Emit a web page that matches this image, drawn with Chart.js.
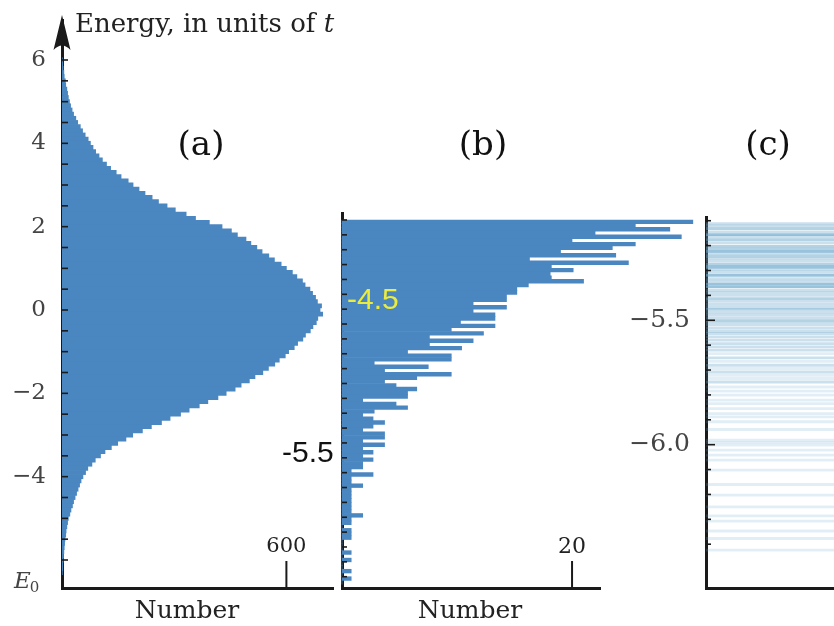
<!DOCTYPE html>
<html><head><meta charset="utf-8">
<script src="https://cdn.jsdelivr.net/npm/chart.js@4.4.1/dist/chart.umd.min.js"></script>
<style>
html,body{margin:0;padding:0;background:#fff;width:834px;height:626px;overflow:hidden}
canvas{position:absolute;left:0;top:0}
</style></head><body>
<canvas id="ca" width="834" height="626"></canvas>
<canvas id="cb" width="834" height="626"></canvas>
<canvas id="cc" width="834" height="626"></canvas>
<script>
// ---------- DATA ----------
// Panel (a): histogram of all energies, bins of 0.1 t, first bin centred at E = 6.0 going down
const binStartA = 6.0, binWidthA = 0.1;
const countA = [
  1,2,3,5,6,9,10,13,15,17,
  20,23,27,31,37,42,49,55,62,70,
  76,83,90,99,108,119,130,145,158,177,
  190,206,222,241,258,281,303,332,357,394,
  428,453,469,492,505,521,535,553,568,586,
  600,616,628,643,650,663,670,678,683,694,
  690,697,684,680,671,664,651,644,630,621,
  606,597,581,569,552,537,516,501,479,463,
  439,417,390,367,340,317,289,266,239,215,
  189,171,149,132,115,103,89,80,69,63,
  56,51,47,43,39,35,31,28,24,21,
  17,15,13,11,10,8,7,6,5,4,
  3,2,2,1
];
const ticksA = [6, 4, 2, 0, -2, -4];
const E0 = -6.49;
const xTickA = 600;

// Panel (b): low-energy tail, bins of 0.025 t, first bin top at E = -4.0
const binTopB = -4.0, binWidthB = 0.025;
const countB = [
  30.5,25.5,28.5,22,29.5,20,25.5,23.5,19,23.8,
  16.3,24.9,18.2,20.1,18.1,18.2,21,16.2,15.2,15.2,
  14.3,14.3,11.4,14.3,11.4,13.3,13.3,10.3,13.3,9.5,
  12.3,7.6,11.4,7.6,10.4,5.7,9.5,9.5,2.8,7.5,
  3.7,9.5,6.5,3.7,4.7,6.5,5.7,5.7,1.8,4.7,
  5.7,2.8,1.8,2.7,3.7,2.7,1.8,3.7,3.7,1.8,
  3.7,1.8,2.7,1.8,2.7,1.8,1.8,0.8,2.7,0.8,
  0.8,1.8,0.8,0.8,0.8,0.8,0.8,0.8,0.8,1.8,
  0.8,0.8,0,0.8,0.8,0.8,0,0,0,0.8,
  0,0.8,0,0,0.8,0,0.8,0
];
const xTickB = 20;
const markB1 = '-4.5', markB2 = '-5.5';

// Panel (c): individual levels near the bottom of the spectrum, with line strength
const levelsC = [
  -5.112,-5.121,-5.132,-5.145,-5.156,-5.165,-5.176,-5.188,-5.202,-5.212,
  -5.223,-5.232,-5.242,-5.252,-5.263,-5.276,-5.286,-5.296,-5.306,-5.319,
  -5.333,-5.343,-5.355,-5.366,-5.380,-5.389,-5.400,-5.413,-5.424,-5.436,
  -5.447,-5.456,-5.469,-5.480,-5.493,-5.504,-5.517,-5.531,-5.544,-5.553,
  -5.567,-5.580,-5.594,-5.607,-5.620,-5.634,-5.651,-5.665,-5.681,-5.694,
  -5.708,-5.721,-5.734,-5.748,-5.768,-5.785,-5.801,-5.821,-5.835,-5.855,
  -5.875,-5.888,-5.908,-5.939,-5.982,-5.992,-6.002,-6.022,-6.042,-6.062,
  -6.102,-6.160,-6.203,-6.250,-6.286,-6.307,-6.347,-6.377,-6.424
];
const weightsC = [
  2,2,3,2,4,2,3,2,3,3,
  4,2,3,2,2,3,4,2,2,4,
  2,2,4,4,2,2,2,3,2,2,
  2,3,2,2,2,3,2,2,2,2,
  2,2,2,2,2,1,2,1,2,1,
  2,1,1,2,1,1,1,1,1,1,
  1,1,1,1,1,1,1,1,1,1,
  1,1,1,1,1,1,1,1,1
];
const ticksC = [-5.5, -6.0];

const titleMain = 'Energy, in units of ', titleVar = 't';
const axisTitleX = 'Number';
const panelNames = ['(a)', '(b)', '(c)'];

// ---------- STYLE ----------
const SERIF = '"DejaVu Serif", serif';
const SANS = '"Liberation Sans", Arial, sans-serif';
const BLUE = '#4a86c0';
const INK = '#1a1a1a';
const LABEL = '#444';
const levelAlpha = [0, 0.2, 0.36, 0.52, 0.7];

function fixY(w) { return s => { s.width = w; s.paddingTop = 0; s.paddingBottom = 0; s.paddingLeft = 0; s.paddingRight = 0; }; }
function fixX(h) { return s => { s.height = h; s.paddingTop = 0; s.paddingBottom = 0; s.paddingLeft = 0; s.paddingRight = 0; }; }
function txt(ctx, s, x, y, font, color, align) {
  ctx.font = font; ctx.fillStyle = color; ctx.textAlign = align || 'left'; ctx.textBaseline = 'alphabetic'; ctx.fillText(s, x, y);
}
function innerTicks(ctx, scale, left, from, to, step, len, majors, majorLen) {
  ctx.strokeStyle = INK; ctx.lineWidth = 1.6;
  const n = Math.round((to - from) / step);
  for (let k = 0; k <= n; k++) {
    const v = from + k * step;
    const py = scale.getPixelForValue(v);
    const isMajor = majors && majors.some(m => Math.abs(m - v) < 1e-6);
    ctx.beginPath(); ctx.moveTo(left, py); ctx.lineTo(left + (isMajor ? majorLen : len), py); ctx.stroke();
  }
}
const minus = v => (v < 0 ? '\u2212' : '') + Math.abs(v);
const common = {
  indexAxis: 'y', responsive: false, animation: false, events: [],
  plugins: { legend: { display: false }, tooltip: { enabled: false }, title: { display: false } }
};
const axisBorder = { display: true, color: INK, width: 3 };

// ---------- PANEL (a) ----------
new Chart(document.getElementById('ca'), {
  type: 'bar',
  data: { datasets: [{
    data: countA.map((c, i) => ({ x: c, y: +(binStartA - binWidthA * i).toFixed(3) })),
    backgroundColor: BLUE, borderWidth: 0, barPercentage: 1, categoryPercentage: 1
  }] },
  options: Object.assign({}, common, {
    layout: { padding: { left: 0, top: 20, right: 501, bottom: 0 } },
    scales: {
      y: { type: 'linear', position: 'left', min: -6.672, max: 6.96, offset: false,
        afterFit: fixY(62),
        afterBuildTicks: s => { s.ticks = ticksA.map(v => ({ value: v })); },
        ticks: { padding: 16, color: LABEL, font: { family: SERIF, size: 23 }, callback: v => minus(v) },
        grid: { display: false, drawTicks: false, offset: false }, border: axisBorder },
      x: { type: 'linear', position: 'bottom', min: 0, max: 724.6,
        afterFit: fixX(38), ticks: { display: false },
        grid: { display: false, drawTicks: false }, border: axisBorder }
    }
  }),
  plugins: [{ id: 'decorA', afterDraw(chart) {
    const { ctx, chartArea: a, scales: { x, y } } = chart;
    ctx.save();
    innerTicks(ctx, y, a.left, -6, 6, 0.5, 6);
    ctx.fillStyle = INK; ctx.beginPath();
    ctx.moveTo(a.left, 15); ctx.lineTo(a.left + 8.5, 50); ctx.quadraticCurveTo(a.left, 41, a.left - 8.5, 50); ctx.closePath(); ctx.fill();
    const px = x.getPixelForValue(xTickA);
    ctx.strokeStyle = INK; ctx.lineWidth = 2; ctx.beginPath(); ctx.moveTo(px, a.bottom); ctx.lineTo(px, a.bottom - 27); ctx.stroke();
    txt(ctx, String(xTickA), px, 552, '21px ' + SERIF, '#222', 'center');
    txt(ctx, axisTitleX, 187, 618, '25px ' + SERIF, '#222', 'center');
    txt(ctx, panelNames[0], 201, 155, '34px ' + SERIF, '#111', 'center');
    ctx.font = '26px ' + SERIF; const w = ctx.measureText(titleMain).width;
    txt(ctx, titleMain, 75, 32, '26px ' + SERIF, '#222');
    txt(ctx, titleVar, 75 + w, 32, 'italic 26px ' + SERIF, '#222');
    const pe = y.getPixelForValue(E0);
    ctx.font = 'italic 23px ' + SERIF; const we = ctx.measureText('E').width;
    txt(ctx, 'E', 14, pe + 8, 'italic 23px ' + SERIF, LABEL);
    txt(ctx, '0', 14 + we - 1, pe + 12, '15px ' + SERIF, LABEL);
    ctx.restore();
  } }]
});

// ---------- PANEL (b) ----------
new Chart(document.getElementById('cb'), {
  type: 'bar',
  data: { datasets: [{
    data: countB.map((c, i) => ({ x: c, y: +(binTopB - binWidthB * (i + 0.5)).toFixed(4) })),
    backgroundColor: BLUE, borderWidth: 0, barPercentage: 1, categoryPercentage: 1, clip: false
  }] },
  options: Object.assign({}, common, {
    layout: { padding: { left: 0, top: 213, right: 234, bottom: 0 } },
    scales: {
      y: { type: 'linear', position: 'left', min: -6.476, max: -3.953, offset: false,
        afterFit: fixY(342), ticks: { display: false },
        grid: { display: false, drawTicks: false, offset: false }, border: axisBorder },
      x: { type: 'linear', position: 'bottom', min: 0, max: 22.43,
        afterFit: fixX(38), ticks: { display: false },
        grid: { display: false, drawTicks: false }, border: axisBorder }
    }
  }),
  plugins: [{ id: 'decorB', afterDraw(chart) {
    const { ctx, chartArea: a, scales: { x, y } } = chart;
    ctx.save();
    innerTicks(ctx, y, a.left, -6.4, -4.0, 0.1, 5);
    const px = x.getPixelForValue(xTickB);
    ctx.strokeStyle = INK; ctx.lineWidth = 2; ctx.beginPath(); ctx.moveTo(px, a.bottom); ctx.lineTo(px, a.bottom - 27); ctx.stroke();
    txt(ctx, String(xTickB), px, 553, '22px ' + SERIF, '#222', 'center');
    txt(ctx, axisTitleX, 470, 618, '25px ' + SERIF, '#222', 'center');
    txt(ctx, panelNames[1], 483, 155, '34px ' + SERIF, '#111', 'center');
    txt(ctx, markB1, 347, 309, '30px ' + SANS, '#ecec3c');
    txt(ctx, markB2, 282, 462, '30px ' + SANS, '#111');
    ctx.restore();
  } }]
});

// ---------- PANEL (c) ----------
new Chart(document.getElementById('cc'), {
  type: 'bar',
  data: { datasets: [{
    data: levelsC.map(e => ({ x: 1, y: e })),
    backgroundColor: weightsC.map(w => 'rgba(110,170,205,' + levelAlpha[w] + ')'),
    borderWidth: 0, barThickness: 2.2
  }] },
  options: Object.assign({}, common, {
    layout: { padding: { left: 0, top: 217, right: 0, bottom: 0 } },
    scales: {
      y: { type: 'linear', position: 'left', min: -6.576, max: -5.085, offset: false,
        afterFit: fixY(706),
        afterBuildTicks: s => { s.ticks = ticksC.map(v => ({ value: v })); },
        ticks: { padding: 16, color: LABEL, font: { family: SERIF, size: 25 },
          callback: v => (v < 0 ? '\u2212' : '') + Math.abs(v).toFixed(1) },
        grid: { display: false, drawTicks: false, offset: false }, border: axisBorder },
      x: { type: 'linear', position: 'bottom', min: 0, max: 1,
        afterFit: fixX(38), ticks: { display: false },
        grid: { display: false, drawTicks: false }, border: axisBorder }
    }
  }),
  plugins: [{ id: 'decorC', afterDraw(chart) {
    const { ctx, chartArea: a, scales: { y } } = chart;
    ctx.save();
    innerTicks(ctx, y, a.left, -6.4, -5.1, 0.1, 5, ticksC, 9);
    txt(ctx, panelNames[2], 768, 155, '34px ' + SERIF, '#111', 'center');
    ctx.restore();
  } }]
});
</script>
</body></html>
